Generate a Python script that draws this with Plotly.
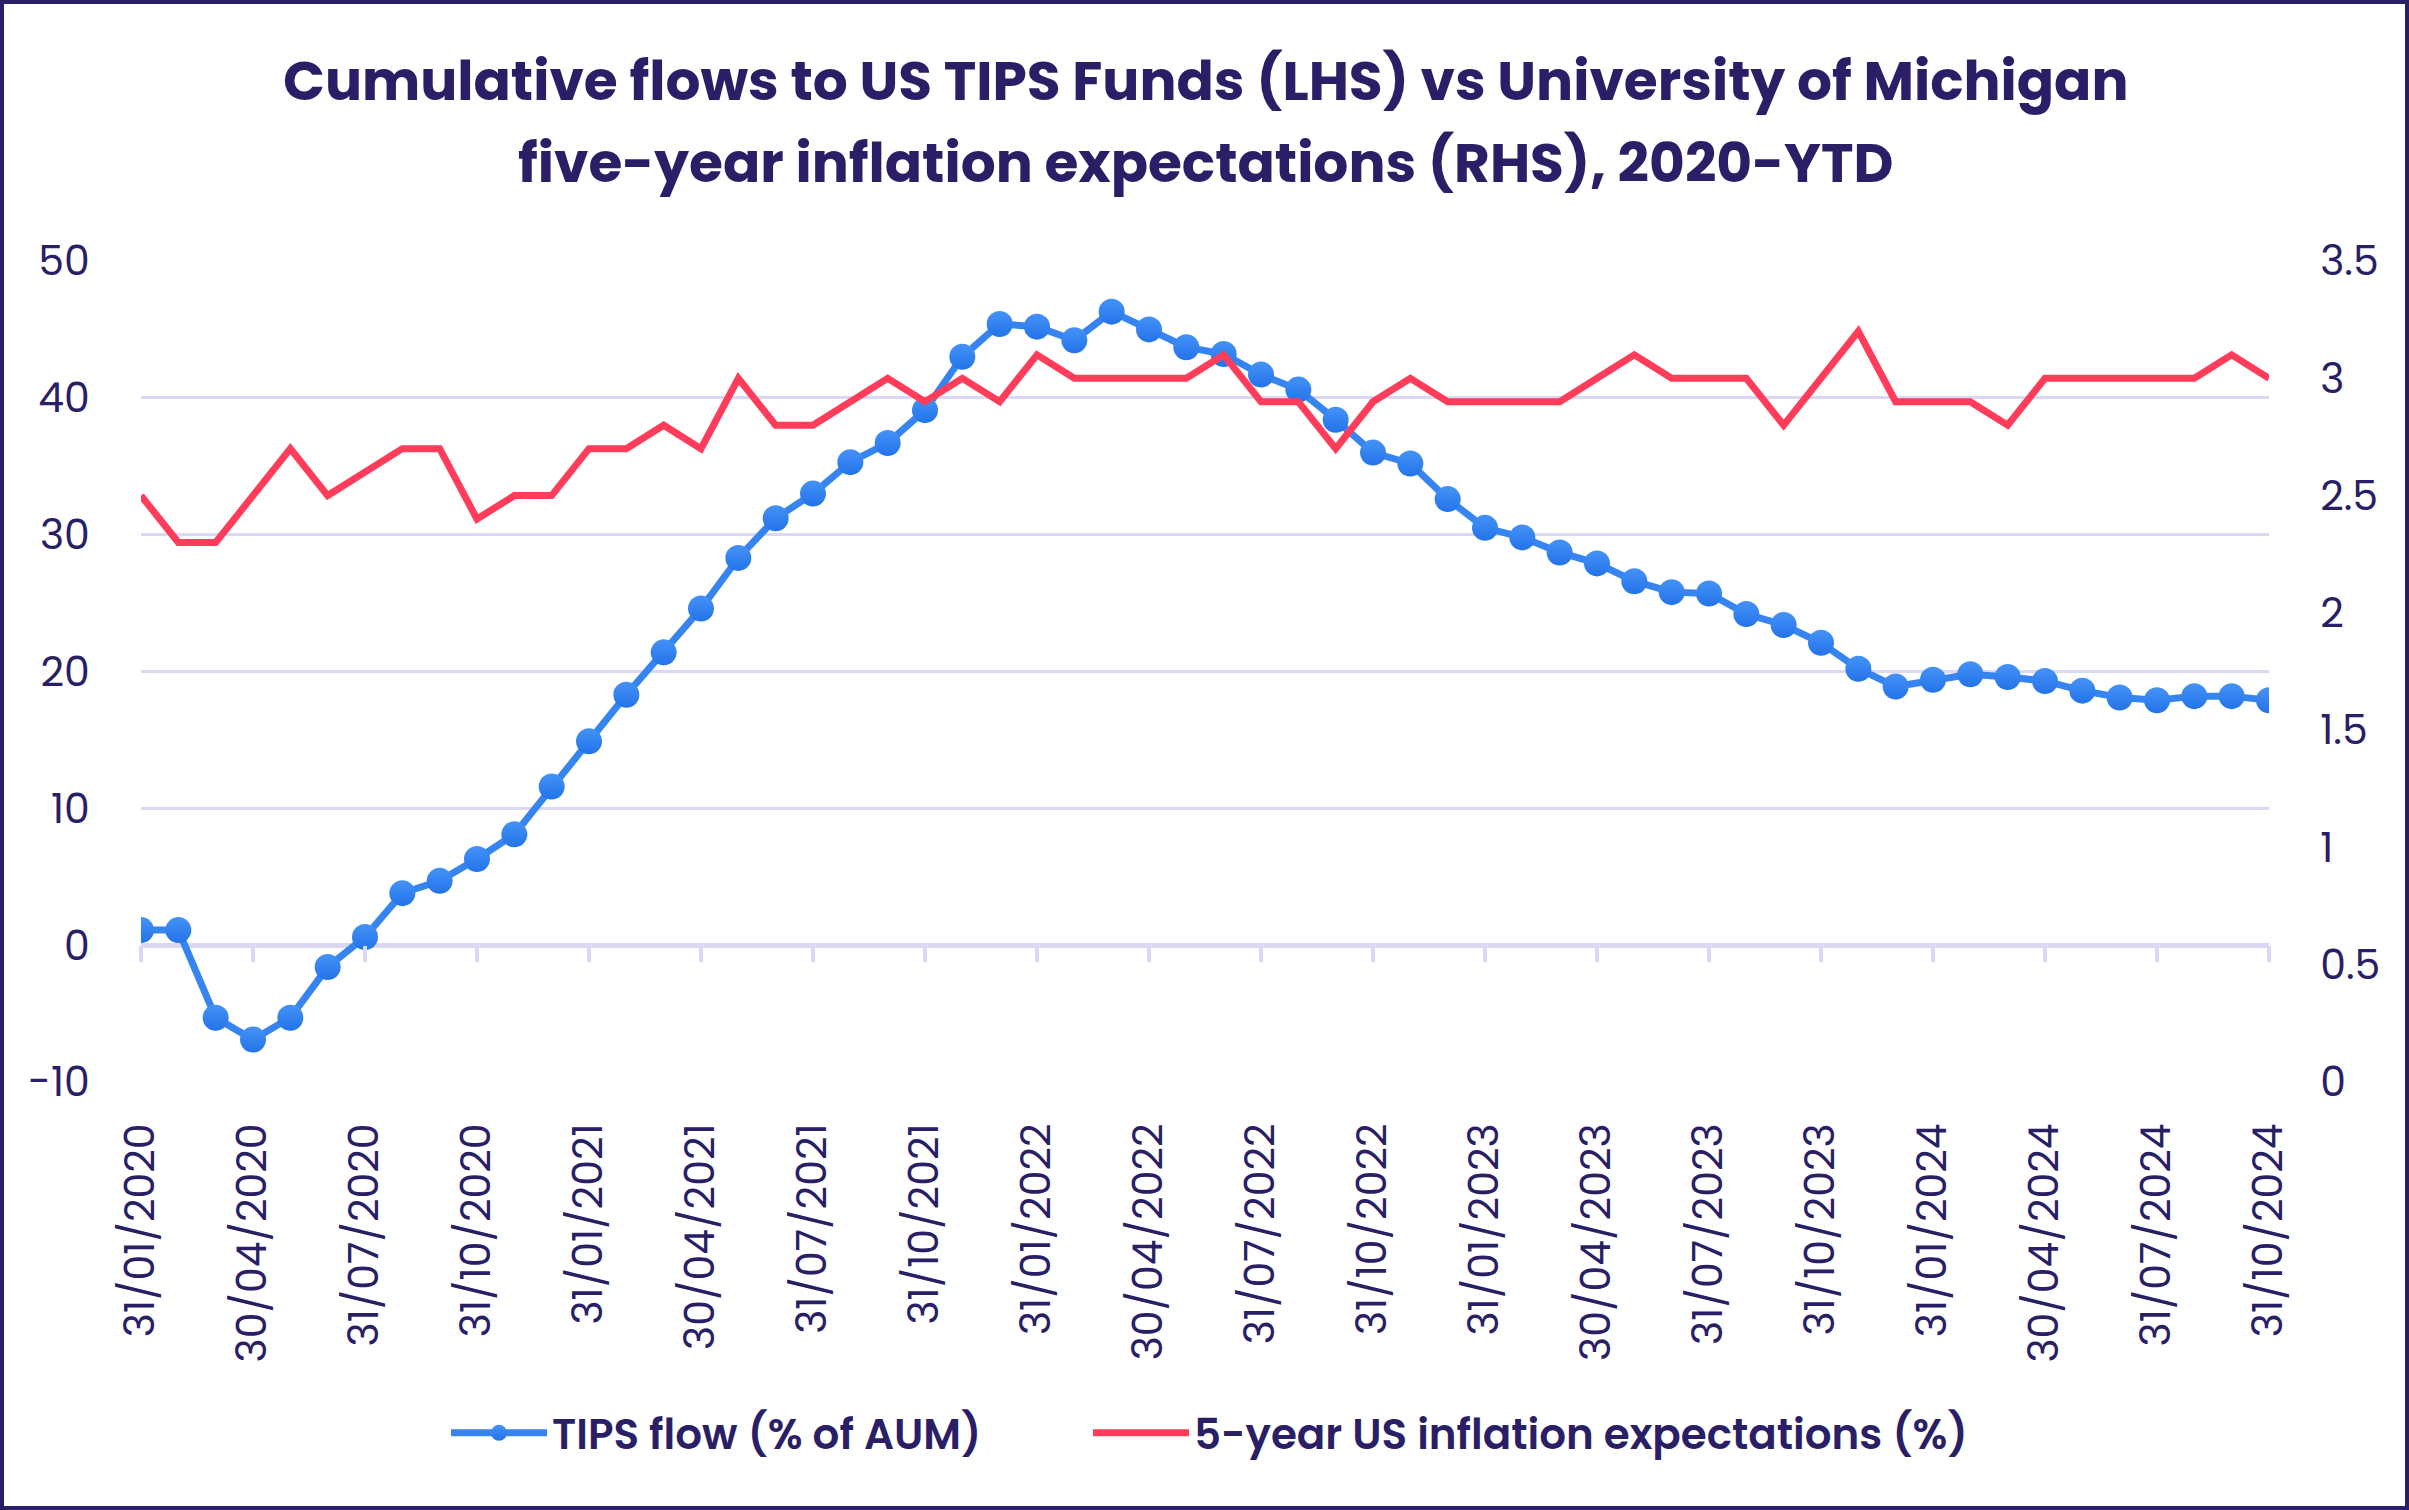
import calendar
import plotly.graph_objects as go

# ---------------- data ----------------
months = []
for yr in range(2020, 2025):
    for mo in range(1, 13):
        if yr == 2024 and mo > 10:
            break
        last_day = calendar.monthrange(yr, mo)[1]
        months.append(f"{last_day:02d}/{mo:02d}/{yr}")

tips_flow = [1.1, 1.1, -5.3, -6.9, -5.3, -1.6, 0.6, 3.8, 4.7, 6.3,
             8.1, 11.6, 14.9, 18.3, 21.4, 24.6, 28.3, 31.2, 33.0, 35.3,
             36.7, 39.1, 43.0, 45.4, 45.2, 44.2, 46.3, 45.0, 43.7, 43.2,
             41.7, 40.6, 38.4, 36.0, 35.2, 32.6, 30.5, 29.8, 28.7, 27.9,
             26.6, 25.8, 25.7, 24.2, 23.4, 22.1, 20.2, 18.9, 19.4, 19.8,
             19.6, 19.3, 18.6, 18.1, 17.9, 18.2, 18.2, 17.9]

inflation_exp = [2.5, 2.3, 2.3, 2.5, 2.7, 2.5, 2.6, 2.7, 2.7, 2.4,
                 2.5, 2.5, 2.7, 2.7, 2.8, 2.7, 3.0, 2.8, 2.8, 2.9,
                 3.0, 2.9, 3.0, 2.9, 3.1, 3.0, 3.0, 3.0, 3.0, 3.1,
                 2.9, 2.9, 2.7, 2.9, 3.0, 2.9, 2.9, 2.9, 2.9, 3.0,
                 3.1, 3.0, 3.0, 3.0, 2.8, 3.0, 3.2, 2.9, 2.9, 2.9,
                 2.8, 3.0, 3.0, 3.0, 3.0, 3.0, 3.1, 3.0]

tick_labels = ["31/01/2020", "30/04/2020", "31/07/2020", "31/10/2020",
               "31/01/2021", "30/04/2021", "31/07/2021", "31/10/2021",
               "31/01/2022", "30/04/2022", "31/07/2022", "31/10/2022",
               "31/01/2023", "30/04/2023", "31/07/2023", "31/10/2023",
               "31/01/2024", "30/04/2024", "31/07/2024", "31/10/2024"]

left_ticks = [-10, 0, 10, 20, 30, 40, 50]
left_tick_text = ["-10", "0", "10", "20", "30", "40", "50"]
right_ticks = [0, 0.5, 1, 1.5, 2, 2.5, 3, 3.5]
right_tick_text = ["0", "0.5", "1", "1.5", "2", "2.5", "3", "3.5"]

title_line1 = "Cumulative flows to US TIPS Funds (LHS) vs University of Michigan"
title_line2 = "five-year inflation expectations (RHS), 2020-YTD"

# ---------------- style ----------------
W, H = 2409, 1510
ML, MR, MT, MB = 141, 140, 261, 428
PW, PH = W - ML - MR, H - MT - MB
NAVY = "#2a1f66"
GRID = "#dcd8f3"
BLUE = "#3584f0"
RED = "#ff3d5a"
FONT = "Poppins, Inter, sans-serif"
TICK_SIZE = 41
LEGEND_Y = -(1433 - (H - MB)) / PH

fig = go.Figure()

fig.add_trace(go.Scatter(
    x=months, y=tips_flow, name="TIPS flow (% of AUM)",
    mode="lines+markers",
    line=dict(color=BLUE, width=7),
    marker=dict(size=26, color="#4592f6",
                gradient=dict(type="vertical", color="#2373ea")),
    xaxis="x", yaxis="y", legend="legend",
))
fig.add_trace(go.Scatter(
    x=months, y=inflation_exp, name="5-year US inflation expectations (%)",
    mode="lines",
    line=dict(color=RED, width=7),
    xaxis="x", yaxis="y2", legend="legend2",
))
# helper trace for the tick-mark axis sitting on the zero line
fig.add_trace(go.Scatter(
    x=months, y=[None] * len(months), xaxis="x2", yaxis="y",
    showlegend=False, hoverinfo="skip", mode="lines",
))

legend_common = dict(orientation="h", xanchor="left", yanchor="middle",
                     y=LEGEND_Y, font=dict(size=42, color=NAVY, weight=600),
                     itemwidth=96, bgcolor="rgba(0,0,0,0)")

fig.update_layout(
    width=W, height=H,
    margin=dict(l=ML, r=MR, t=MT, b=MB),
    paper_bgcolor="white", plot_bgcolor="white",
    font=dict(family=FONT, color=NAVY, size=TICK_SIZE),
    showlegend=True,
    legend=dict(x=(446 - ML) / PW, **legend_common),
    legend2=dict(x=(1088 - ML) / PW, **legend_common),
    xaxis=dict(type="category", categoryorder="array", categoryarray=months,
               range=[0, len(months) - 1],
               tickvals=tick_labels, ticktext=tick_labels,
               tickangle=-90, ticks="outside", ticklen=24,
               tickcolor="rgba(0,0,0,0)",
               tickfont=dict(size=TICK_SIZE, color=NAVY),
               showgrid=False, showline=False, zeroline=False),
    xaxis2=dict(type="category", categoryorder="array", categoryarray=months,
                overlaying="x", anchor="free", position=10 / 60,
                range=[0, len(months) - 1],
                tickvals=tick_labels, ticks="outside", ticklen=16,
                tickwidth=4, tickcolor=GRID,
                showticklabels=False, showgrid=False, showline=False,
                zeroline=False),
    yaxis=dict(range=[-10, 50], tickvals=left_ticks, ticktext=left_tick_text,
               ticks="outside", ticklen=42, tickcolor="rgba(0,0,0,0)",
               showgrid=True, gridcolor=GRID, gridwidth=3,
               zeroline=True, zerolinecolor=GRID, zerolinewidth=5,
               showline=False, tickfont=dict(size=TICK_SIZE, color=NAVY)),
    yaxis2=dict(range=[0, 3.5], tickvals=right_ticks, ticktext=right_tick_text,
                overlaying="y", side="right",
                ticks="outside", ticklen=42, tickcolor="rgba(0,0,0,0)",
                showgrid=False, zeroline=False, showline=False,
                tickfont=dict(size=TICK_SIZE, color=NAVY)),
    annotations=[
        dict(text=f"<b>{title_line1}</b>", xref="paper", yref="paper",
             x=0.5, y=1 + (MT - 80) / PH, xanchor="center", yanchor="middle",
             showarrow=False, font=dict(size=55, color=NAVY, family=FONT)),
        dict(text=f"<b>{title_line2}</b>", xref="paper", yref="paper",
             x=0.5, y=1 + (MT - 163) / PH, xanchor="center", yanchor="middle",
             showarrow=False, font=dict(size=55, color=NAVY, family=FONT)),
    ],
    shapes=[
        dict(type="rect", xref="paper", yref="paper",
             x0=-(ML - 2) / PW, x1=(W - 2 - ML) / PW,
             y0=-(MB - 2) / PH, y1=1 + (MT - 2) / PH,
             line=dict(color=NAVY, width=4), fillcolor="rgba(0,0,0,0)",
             layer="below"),
    ],
)

fig.write_html("out.html",
               config={"displayModeBar": False},
               post_script="document.body.style.margin='0px';"
                           "document.body.style.overflow='hidden';")
